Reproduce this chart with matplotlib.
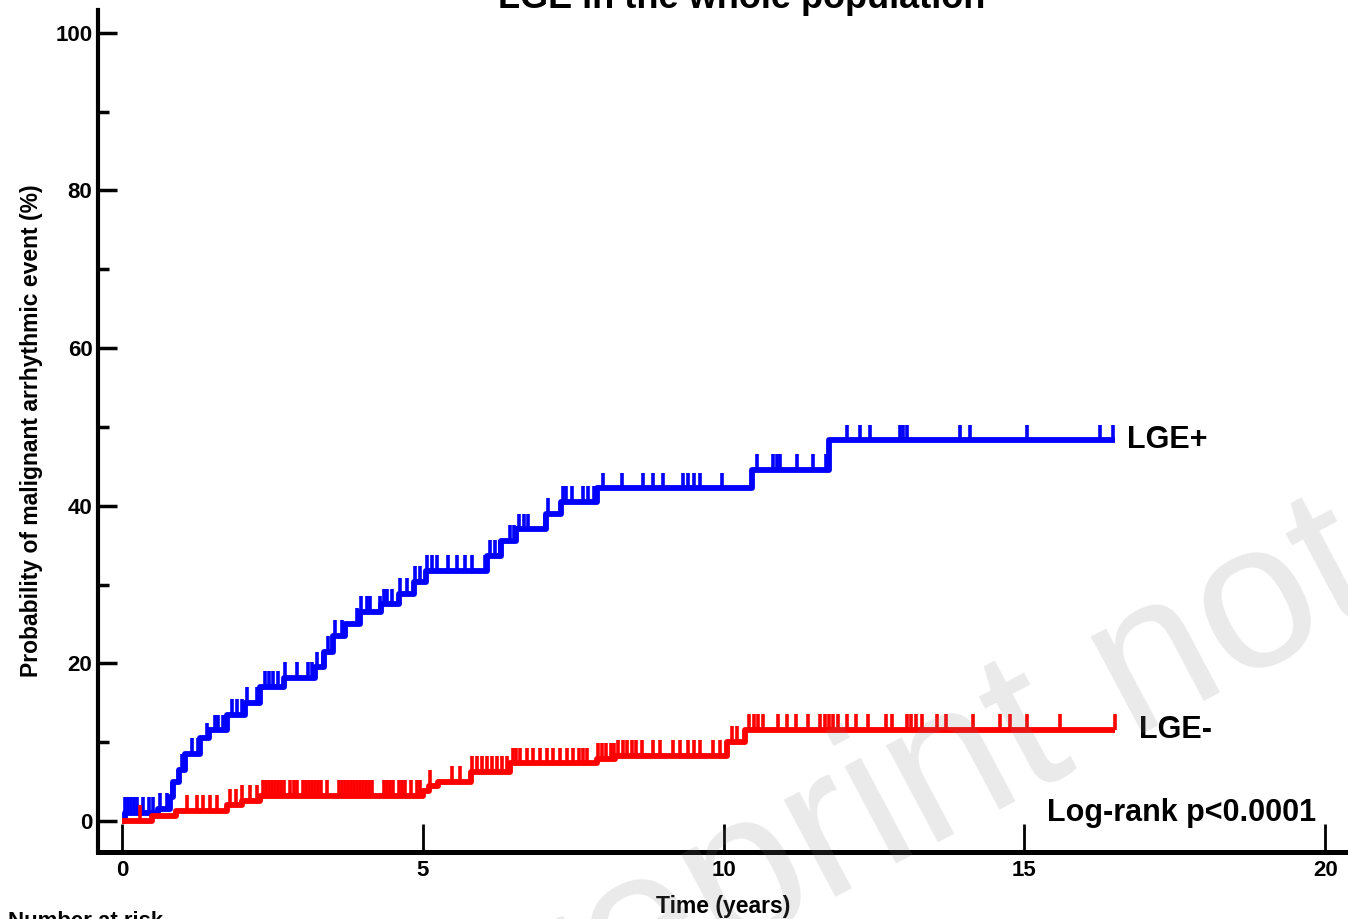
import numpy as np
import matplotlib.pyplot as plt

plt.rcParams['font.family'] = ['Liberation Sans', 'DejaVu Sans']
plt.rcParams['font.weight'] = 'bold'

# LGE+ step curve (years, cumulative %)
blue_t = [0, 0.05, 0.6, 0.8, 0.85, 0.95, 1.05, 1.3, 1.45, 1.75, 2.05, 2.3, 2.7, 3.2, 3.35,
          3.5, 3.7, 3.95, 4.3, 4.6, 4.85, 5.05, 6.07, 6.3, 6.55, 7.05, 7.3, 7.9, 10.47, 11.75]
blue_y = [0, 1.0, 1.5, 3, 5, 6.5, 8.5, 10.5, 11.5, 13.5, 15, 17, 18.2, 19.5, 21.5,
          23.5, 25, 26.5, 27.5, 28.8, 30.3, 31.7, 33.6, 35.5, 37, 39, 40.5, 42.2, 44.6, 48.3]
blue_end = 16.5
blue_cens = [0.05, 0.1, 0.15, 0.2, 0.25, 0.35, 0.45, 0.52, 0.63, 0.75, 0.83, 1.0, 1.16, 1.26,
             1.41, 1.55, 1.6, 1.68, 1.83, 1.91, 2.0, 2.08, 2.24, 2.38, 2.45, 2.51, 2.59, 2.71,
             2.91, 3.09, 3.16, 3.24, 3.34, 3.42, 3.54, 3.66, 3.9, 3.97, 4.07, 4.12, 4.29, 4.35,
             4.4, 4.49, 4.62, 4.74, 4.87, 4.95, 5.07, 5.15, 5.24, 5.42, 5.57, 5.7, 5.82, 6.03,
             6.12, 6.2, 6.28, 6.45, 6.52, 6.6, 6.68, 6.75, 7.03, 7.08, 7.33, 7.38, 7.48, 7.66,
             7.75, 7.85, 8.0, 8.31, 8.66, 8.83, 8.99, 9.33, 9.4, 9.5, 9.61, 9.97, 10.56, 10.82,
             10.88, 10.94, 11.22, 11.49, 11.7, 12.05, 12.27, 12.43, 12.93, 12.98, 13.05, 13.93,
             14.1, 15.05, 16.26, 16.48]

# LGE- step curve
red_t = [0, 0.5, 0.9, 1.75, 2.0, 2.3, 5.0, 5.1, 5.25, 5.8, 6.45, 7.9, 8.2, 10.05, 10.35]
red_y = [0, 0.7, 1.3, 2.0, 2.6, 3.2, 3.8, 4.5, 5.0, 6.2, 7.3, 7.9, 8.3, 10.0, 11.6]
red_end = 16.5
red_cens = [0.3, 1.08, 1.25, 1.35, 1.46, 1.58, 1.8, 1.9, 2.0, 2.13, 2.25, 2.35, 2.4, 2.45, 2.5,
            2.55, 2.6, 2.65, 2.7, 2.8, 2.85, 2.9, 3.0, 3.05, 3.1, 3.15, 3.2, 3.25, 3.3, 3.4,
            3.6, 3.65, 3.7, 3.75, 3.8, 3.85, 3.9, 3.95, 4.0, 4.05, 4.1, 4.15, 4.35, 4.4, 4.45,
            4.5, 4.6, 4.65, 4.7, 4.8, 4.9, 4.95, 5.12, 5.49, 5.62, 5.82, 5.9, 5.99, 6.07, 6.15,
            6.23, 6.32, 6.4, 6.5, 6.55, 6.62, 6.73, 6.83, 6.95, 7.06, 7.16, 7.28, 7.4, 7.5,
            7.6, 7.66, 7.73, 7.92, 7.98, 8.05, 8.12, 8.18, 8.25, 8.32, 8.4, 8.47, 8.55, 8.64,
            8.83, 8.94, 9.16, 9.28, 9.4, 9.5, 9.61, 9.83, 9.94, 10.14, 10.22, 10.42, 10.5,
            10.58, 10.65, 10.9, 11.05, 11.2, 11.4, 11.6, 11.68, 11.75, 11.82, 11.9, 12.05,
            12.2, 12.4, 12.7, 12.8, 13.05, 13.12, 13.2, 13.3, 13.55, 13.7, 14.15, 14.6, 14.76,
            15.05, 15.6, 16.5]

fig = plt.figure(figsize=(13.48, 9.19), dpi=100)
ax = fig.add_axes([98 / 1348, 67 / 919, 1250 / 1348, 842 / 919])


def km(t, y, end, cens, color):
    tt = np.append(t, end)
    yy = np.append(y, y[-1])
    ax.step(tt, yy, where='post', color=color, lw=4.2, solid_capstyle='butt')
    idx = np.searchsorted(t, cens, side='right') - 1
    lev = np.array(y)[idx]
    ax.vlines(cens, lev, lev + 2.0, color=color, lw=2.6)


km(blue_t, blue_y, blue_end, blue_cens, '#0000ff')
km(red_t, red_y, red_end, red_cens, '#ff0000')

ax.set_xlim(-0.4, 20.38)
ax.set_ylim(-3.93, 102.9)
for s in ['top', 'right']:
    ax.spines[s].set_visible(False)
ax.spines['left'].set_linewidth(3)
ax.spines['bottom'].set_linewidth(3.6)

ax.set_xticks([0, 5, 10, 15, 20])
ax.set_yticks([0, 20, 40, 60, 80, 100])
ax.set_yticks([10, 30, 50, 70, 90], minor=True)
ax.tick_params(axis='x', direction='in', length=20, width=2, pad=6, labelsize=16)
ax.tick_params(axis='y', which='major', direction='in', length=14, width=2.5, pad=4, labelsize=16)
ax.tick_params(axis='y', which='minor', direction='in', length=8, width=2.5)
for lb in ax.get_xticklabels() + ax.get_yticklabels():
    lb.set_fontweight('bold')

ax.set_ylabel('Probability of malignant arrhythmic event (%)', fontsize=16.5,
              fontweight='bold', labelpad=9)
ax.set_xlabel('Time (years)', fontsize=16.5, fontweight='bold', labelpad=10)

ax.text(16.7, blue_y[-1], 'LGE+', fontsize=22, fontweight='bold', va='center')
ax.text(16.9, red_y[-1], 'LGE-', fontsize=22, fontweight='bold', va='center')
ax.text(19.85, 0, 'Log-rank p<0.0001', fontsize=22, fontweight='bold', ha='right',
        va='baseline')

fig.text(742 / 1348, 1 - 8 / 919, 'LGE in the whole population', fontsize=26,
         fontweight='bold', ha='center', va='baseline')
fig.text(8 / 1348, 1 - 911 / 919, 'Number at risk', fontsize=16, fontweight='bold',
         ha='left', va='top')

fig.text(435 / 1348, 1 - 1110 / 919, 'Preprint not', fontsize=150, color='#808080',
         alpha=0.17, rotation=28, rotation_mode='anchor', ha='left', va='baseline',
         fontweight='normal')

fig.savefig('out.png', dpi=100)
